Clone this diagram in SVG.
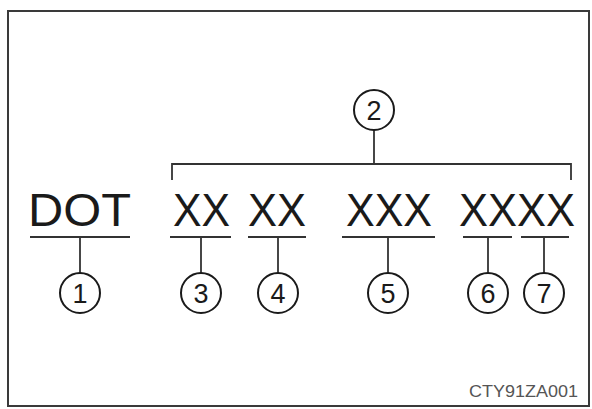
<svg xmlns="http://www.w3.org/2000/svg" width="592" height="409" viewBox="0 0 592 409">
<style>
.big{font-family:"Liberation Sans",Arial,sans-serif;font-size:46px;fill:#1a1a1a}
.num{font-family:"Liberation Sans",Arial,sans-serif;font-size:27px;fill:#1a1a1a;text-anchor:middle}
.circ{fill:#fff;stroke:#1a1a1a;stroke-width:2}
.ln{stroke:#333;stroke-width:1.8;fill:none}
.code{font-family:"Liberation Sans",Arial,sans-serif;font-size:16px;fill:#555}
</style>
<rect x="0" y="0" width="592" height="409" fill="#fff"/>
<rect x="8" y="11" width="581" height="395" fill="#fff" stroke="#3a3a3a" stroke-width="2"/>
<g id="connectors">
<path class="ln" d="M30 237H130M80 237V273"/>
<path class="ln" d="M170 237H231M201 237V273"/>
<path class="ln" d="M248 237H306M278 237V273"/>
<path class="ln" d="M342 237H435M388 237V273"/>
<path class="ln" d="M463 237H512M488 237V273"/>
<path class="ln" d="M521 237H569M544 237V273"/>
<path class="ln" d="M172 180V164H571V180M374 164V130"/>
</g>
<g id="text-dot"><text class="big" x="28" y="226" textLength="103" lengthAdjust="spacingAndGlyphs">DOT</text></g>
<g id="text-xx1"><text class="big" x="173" y="226" textLength="57" lengthAdjust="spacingAndGlyphs">XX</text></g>
<g id="text-xx2"><text class="big" x="248" y="226" textLength="58" lengthAdjust="spacingAndGlyphs">XX</text></g>
<g id="text-xxx"><text class="big" x="346" y="226" textLength="86" lengthAdjust="spacingAndGlyphs">XXX</text></g>
<g id="text-xxxx"><text class="big" x="459" y="226" textLength="116" lengthAdjust="spacingAndGlyphs">XXXX</text></g>
<g id="n1"><circle class="circ" cx="80" cy="293" r="20"/><text class="num" x="80" y="303">1</text></g>
<g id="n2"><circle class="circ" cx="374" cy="110" r="20"/><text class="num" x="374" y="120">2</text></g>
<g id="n3"><circle class="circ" cx="201" cy="293" r="20"/><text class="num" x="201" y="303">3</text></g>
<g id="n4"><circle class="circ" cx="278" cy="293" r="20"/><text class="num" x="278" y="303">4</text></g>
<g id="n5"><circle class="circ" cx="388" cy="293" r="20"/><text class="num" x="388" y="303">5</text></g>
<g id="n6"><circle class="circ" cx="488" cy="293" r="20"/><text class="num" x="488" y="303">6</text></g>
<g id="n7"><circle class="circ" cx="544" cy="293" r="20"/><text class="num" x="544" y="303">7</text></g>
<g id="code"><text class="code" x="469" y="397" textLength="109" lengthAdjust="spacingAndGlyphs">CTY91ZA001</text></g>
</svg>
